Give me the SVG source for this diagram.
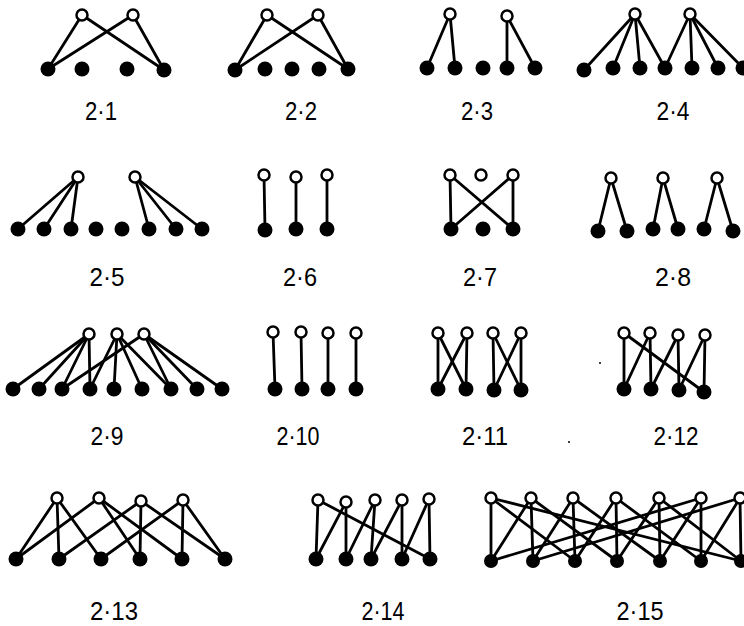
<svg xmlns="http://www.w3.org/2000/svg" width="744" height="626" viewBox="0 0 744 626">
<style>
.e line{stroke:#000;stroke-width:2.8;stroke-linecap:round}
.o{fill:#fff;stroke:#000;stroke-width:2.5}
.f{fill:#000}
text{font-family:"Liberation Sans",Arial,sans-serif;font-size:25px;fill:#000;text-anchor:middle}
</style>
<rect width="744" height="626" fill="#fff"/>

<!-- 2.1 -->
<g id="graph-2-1">
<g class="e" id="edges-2-1">
<line x1="82" y1="15" x2="48" y2="69"/><line x1="82" y1="15" x2="164" y2="70"/>
<line x1="133" y1="15" x2="48" y2="69"/><line x1="133" y1="15" x2="164" y2="70"/>
</g>
<g id="n2-1-t1"><circle class="o" cx="82" cy="15" r="5.5"/></g>
<g id="n2-1-t2"><circle class="o" cx="133" cy="15" r="5.5"/></g>
<g id="n2-1-b1"><circle class="f" cx="48" cy="69" r="7.5"/></g>
<g id="n2-1-b2"><circle class="f" cx="82" cy="69" r="7.5"/></g>
<g id="n2-1-b3"><circle class="f" cx="127" cy="69" r="7.5"/></g>
<g id="n2-1-b4"><circle class="f" cx="164" cy="70" r="7.5"/></g>
<text x="101" y="120" textLength="32" lengthAdjust="spacingAndGlyphs">2·1</text>
</g>

<!-- 2.2 -->
<g id="graph-2-2">
<g class="e" id="edges-2-2">
<line x1="267" y1="15" x2="235" y2="70"/><line x1="267" y1="15" x2="348" y2="69"/>
<line x1="318" y1="15" x2="235" y2="70"/><line x1="318" y1="15" x2="348" y2="69"/>
</g>
<g id="n2-2-t1"><circle class="o" cx="267" cy="15" r="5.5"/></g>
<g id="n2-2-t2"><circle class="o" cx="318" cy="15" r="5.5"/></g>
<g id="n2-2-b1"><circle class="f" cx="235" cy="70" r="7.5"/></g>
<g id="n2-2-b2"><circle class="f" cx="265" cy="69" r="7.5"/></g>
<g id="n2-2-b3"><circle class="f" cx="292" cy="69" r="7.5"/></g>
<g id="n2-2-b4"><circle class="f" cx="319" cy="69" r="7.5"/></g>
<g id="n2-2-b5"><circle class="f" cx="348" cy="69" r="7.5"/></g>
<text x="301" y="120" textLength="32" lengthAdjust="spacingAndGlyphs">2·2</text>
</g>

<!-- 2.3 -->
<g id="graph-2-3">
<g class="e" id="edges-2-3">
<line x1="450" y1="14" x2="427" y2="68"/><line x1="450" y1="14" x2="455" y2="68"/>
<line x1="507" y1="16" x2="507" y2="68"/><line x1="507" y1="16" x2="535" y2="68"/>
</g>
<g id="n2-3-t1"><circle class="o" cx="450" cy="14" r="5.5"/></g>
<g id="n2-3-t2"><circle class="o" cx="507" cy="16" r="5.5"/></g>
<g id="n2-3-b1"><circle class="f" cx="427" cy="68" r="7.5"/></g>
<g id="n2-3-b2"><circle class="f" cx="455" cy="68" r="7.5"/></g>
<g id="n2-3-b3"><circle class="f" cx="483" cy="68" r="7.5"/></g>
<g id="n2-3-b4"><circle class="f" cx="507" cy="68" r="7.5"/></g>
<g id="n2-3-b5"><circle class="f" cx="535" cy="68" r="7.5"/></g>
<text x="477" y="120" textLength="32" lengthAdjust="spacingAndGlyphs">2·3</text>
</g>

<!-- 2.4 -->
<g id="graph-2-4">
<g class="e" id="edges-2-4">
<line x1="635" y1="14" x2="584" y2="70"/><line x1="635" y1="14" x2="613" y2="68"/>
<line x1="635" y1="14" x2="640" y2="68"/><line x1="635" y1="14" x2="665" y2="68"/>
<line x1="690" y1="14" x2="665" y2="68"/><line x1="690" y1="14" x2="692" y2="68"/>
<line x1="690" y1="14" x2="718" y2="68"/><line x1="690" y1="14" x2="743" y2="68"/>
</g>
<g id="n2-4-t1"><circle class="o" cx="635" cy="14" r="5.5"/></g>
<g id="n2-4-t2"><circle class="o" cx="690" cy="14" r="5.5"/></g>
<g id="n2-4-b1"><circle class="f" cx="584" cy="70" r="7.5"/></g>
<g id="n2-4-b2"><circle class="f" cx="613" cy="68" r="7.5"/></g>
<g id="n2-4-b3"><circle class="f" cx="640" cy="68" r="7.5"/></g>
<g id="n2-4-b4"><circle class="f" cx="665" cy="68" r="7.5"/></g>
<g id="n2-4-b5"><circle class="f" cx="692" cy="68" r="7.5"/></g>
<g id="n2-4-b6"><circle class="f" cx="718" cy="68" r="7.5"/></g>
<g id="n2-4-b7"><circle class="f" cx="743" cy="68" r="7.5"/></g>
<text x="673" y="120" textLength="33" lengthAdjust="spacingAndGlyphs">2·4</text>
</g>

<!-- 2.5 -->
<g id="graph-2-5">
<g class="e" id="edges-2-5">
<line x1="78" y1="177" x2="18" y2="229"/><line x1="78" y1="177" x2="44" y2="229"/>
<line x1="78" y1="177" x2="71" y2="229"/>
<line x1="135" y1="177" x2="149" y2="229"/><line x1="135" y1="177" x2="176" y2="229"/>
<line x1="135" y1="177" x2="202" y2="229"/>
</g>
<g id="n2-5-t1"><circle class="o" cx="78" cy="177" r="5.5"/></g>
<g id="n2-5-t2"><circle class="o" cx="135" cy="177" r="5.5"/></g>
<g id="n2-5-b1"><circle class="f" cx="18" cy="229" r="7.5"/></g>
<g id="n2-5-b2"><circle class="f" cx="44" cy="229" r="7.5"/></g>
<g id="n2-5-b3"><circle class="f" cx="71" cy="229" r="7.5"/></g>
<g id="n2-5-b4"><circle class="f" cx="96" cy="229" r="7.5"/></g>
<g id="n2-5-b5"><circle class="f" cx="122" cy="229" r="7.5"/></g>
<g id="n2-5-b6"><circle class="f" cx="149" cy="229" r="7.5"/></g>
<g id="n2-5-b7"><circle class="f" cx="176" cy="229" r="7.5"/></g>
<g id="n2-5-b8"><circle class="f" cx="202" cy="229" r="7.5"/></g>
<text x="107" y="286" textLength="35" lengthAdjust="spacingAndGlyphs">2·5</text>
</g>

<!-- 2.6 -->
<g id="graph-2-6">
<g class="e" id="edges-2-6">
<line x1="264" y1="175" x2="265" y2="230"/><line x1="296" y1="177" x2="296" y2="229"/>
<line x1="327" y1="175" x2="327" y2="229"/>
</g>
<g id="n2-6-t1"><circle class="o" cx="264" cy="175" r="5.5"/></g>
<g id="n2-6-t2"><circle class="o" cx="296" cy="177" r="5.5"/></g>
<g id="n2-6-t3"><circle class="o" cx="327" cy="175" r="5.5"/></g>
<g id="n2-6-b1"><circle class="f" cx="265" cy="230" r="7.5"/></g>
<g id="n2-6-b2"><circle class="f" cx="296" cy="229" r="7.5"/></g>
<g id="n2-6-b3"><circle class="f" cx="327" cy="229" r="7.5"/></g>
<text x="300" y="286" textLength="34" lengthAdjust="spacingAndGlyphs">2·6</text>
</g>

<!-- 2.7 -->
<g id="graph-2-7">
<g class="e" id="edges-2-7">
<line x1="450" y1="175" x2="451" y2="229"/><line x1="450" y1="175" x2="513" y2="229"/>
<line x1="513" y1="175" x2="451" y2="229"/><line x1="513" y1="175" x2="513" y2="229"/>
</g>
<g id="n2-7-t1"><circle class="o" cx="450" cy="175" r="5.5"/></g>
<g id="n2-7-t2"><circle class="o" cx="481" cy="175" r="5.5"/></g>
<g id="n2-7-t3"><circle class="o" cx="513" cy="175" r="5.5"/></g>
<g id="n2-7-b1"><circle class="f" cx="451" cy="229" r="7.5"/></g>
<g id="n2-7-b2"><circle class="f" cx="483" cy="229" r="7.5"/></g>
<g id="n2-7-b3"><circle class="f" cx="513" cy="229" r="7.5"/></g>
<text x="480" y="286" textLength="34" lengthAdjust="spacingAndGlyphs">2·7</text>
</g>

<!-- 2.8 -->
<g id="graph-2-8">
<g class="e" id="edges-2-8">
<line x1="611" y1="178" x2="598" y2="231"/><line x1="611" y1="178" x2="627" y2="231"/>
<line x1="663" y1="178" x2="653" y2="229"/><line x1="663" y1="178" x2="678" y2="229"/>
<line x1="717" y1="178" x2="704" y2="229"/><line x1="717" y1="178" x2="733" y2="231"/>
</g>
<g id="n2-8-t1"><circle class="o" cx="611" cy="178" r="5.5"/></g>
<g id="n2-8-t2"><circle class="o" cx="663" cy="178" r="5.5"/></g>
<g id="n2-8-t3"><circle class="o" cx="717" cy="178" r="5.5"/></g>
<g id="n2-8-b1"><circle class="f" cx="598" cy="231" r="7.5"/></g>
<g id="n2-8-b2"><circle class="f" cx="627" cy="231" r="7.5"/></g>
<g id="n2-8-b3"><circle class="f" cx="653" cy="229" r="7.5"/></g>
<g id="n2-8-b4"><circle class="f" cx="678" cy="229" r="7.5"/></g>
<g id="n2-8-b5"><circle class="f" cx="704" cy="229" r="7.5"/></g>
<g id="n2-8-b6"><circle class="f" cx="733" cy="231" r="7.5"/></g>
<text x="673" y="286" textLength="36" lengthAdjust="spacingAndGlyphs">2·8</text>
</g>

<!-- 2.9 -->
<g id="graph-2-9">
<g class="e" id="edges-2-9">
<line x1="89" y1="334" x2="13" y2="389"/><line x1="89" y1="334" x2="39" y2="389"/>
<line x1="89" y1="334" x2="62" y2="389"/><line x1="89" y1="334" x2="90" y2="389"/>
<line x1="117" y1="334" x2="90" y2="389"/><line x1="117" y1="334" x2="114" y2="389"/>
<line x1="117" y1="334" x2="142" y2="389"/><line x1="117" y1="334" x2="171" y2="389"/>
<line x1="144" y1="334" x2="62" y2="389"/><line x1="144" y1="334" x2="171" y2="389"/>
<line x1="144" y1="334" x2="197" y2="389"/><line x1="144" y1="334" x2="222" y2="389"/>
</g>
<g id="n2-9-t1"><circle class="o" cx="89" cy="334" r="5.5"/></g>
<g id="n2-9-t2"><circle class="o" cx="117" cy="334" r="5.5"/></g>
<g id="n2-9-t3"><circle class="o" cx="144" cy="334" r="5.5"/></g>
<g id="n2-9-b1"><circle class="f" cx="13" cy="389" r="7.5"/></g>
<g id="n2-9-b2"><circle class="f" cx="39" cy="389" r="7.5"/></g>
<g id="n2-9-b3"><circle class="f" cx="62" cy="389" r="7.5"/></g>
<g id="n2-9-b4"><circle class="f" cx="90" cy="389" r="7.5"/></g>
<g id="n2-9-b5"><circle class="f" cx="114" cy="389" r="7.5"/></g>
<g id="n2-9-b6"><circle class="f" cx="142" cy="389" r="7.5"/></g>
<g id="n2-9-b7"><circle class="f" cx="171" cy="389" r="7.5"/></g>
<g id="n2-9-b8"><circle class="f" cx="197" cy="389" r="7.5"/></g>
<g id="n2-9-b9"><circle class="f" cx="222" cy="389" r="7.5"/></g>
<text x="107" y="445" textLength="33" lengthAdjust="spacingAndGlyphs">2·9</text>
</g>

<!-- 2.10 -->
<g id="graph-2-10">
<g class="e" id="edges-2-10">
<line x1="273" y1="332" x2="275" y2="389"/><line x1="301" y1="332" x2="302" y2="389"/>
<line x1="328" y1="333" x2="328" y2="389"/><line x1="356" y1="333" x2="356" y2="389"/>
</g>
<g id="n2-10-t1"><circle class="o" cx="273" cy="332" r="5.5"/></g>
<g id="n2-10-t2"><circle class="o" cx="301" cy="332" r="5.5"/></g>
<g id="n2-10-t3"><circle class="o" cx="328" cy="333" r="5.5"/></g>
<g id="n2-10-t4"><circle class="o" cx="356" cy="333" r="5.5"/></g>
<g id="n2-10-b1"><circle class="f" cx="275" cy="389" r="7.5"/></g>
<g id="n2-10-b2"><circle class="f" cx="302" cy="389" r="7.5"/></g>
<g id="n2-10-b3"><circle class="f" cx="328" cy="389" r="7.5"/></g>
<g id="n2-10-b4"><circle class="f" cx="356" cy="389" r="7.5"/></g>
<text x="298" y="445" textLength="43" lengthAdjust="spacingAndGlyphs">2·10</text>
</g>

<!-- 2.11 -->
<g id="graph-2-11">
<g class="e" id="edges-2-11">
<line x1="438" y1="333" x2="438" y2="389"/><line x1="438" y1="333" x2="466" y2="389"/>
<line x1="467" y1="333" x2="438" y2="389"/><line x1="467" y1="333" x2="466" y2="389"/>
<line x1="493" y1="333" x2="494" y2="390"/><line x1="493" y1="333" x2="521" y2="390"/>
<line x1="521" y1="333" x2="494" y2="390"/><line x1="521" y1="333" x2="521" y2="390"/>
</g>
<g id="n2-11-t1"><circle class="o" cx="438" cy="333" r="5.5"/></g>
<g id="n2-11-t2"><circle class="o" cx="467" cy="333" r="5.5"/></g>
<g id="n2-11-t3"><circle class="o" cx="493" cy="333" r="5.5"/></g>
<g id="n2-11-t4"><circle class="o" cx="521" cy="333" r="5.5"/></g>
<g id="n2-11-b1"><circle class="f" cx="438" cy="389" r="7.5"/></g>
<g id="n2-11-b2"><circle class="f" cx="466" cy="389" r="7.5"/></g>
<g id="n2-11-b3"><circle class="f" cx="494" cy="390" r="7.5"/></g>
<g id="n2-11-b4"><circle class="f" cx="521" cy="390" r="7.5"/></g>
<text x="485" y="445" textLength="46" lengthAdjust="spacingAndGlyphs">2·11</text>
</g>

<!-- 2.12 -->
<g id="graph-2-12">
<g class="e" id="edges-2-12">
<line x1="624" y1="333" x2="624" y2="389"/><line x1="624" y1="333" x2="704" y2="392"/>
<line x1="650" y1="333" x2="624" y2="389"/><line x1="650" y1="333" x2="651" y2="389"/>
<line x1="678" y1="335" x2="651" y2="389"/><line x1="678" y1="335" x2="679" y2="390"/>
<line x1="705" y1="335" x2="679" y2="390"/><line x1="705" y1="335" x2="704" y2="392"/>
</g>
<g id="n2-12-t1"><circle class="o" cx="624" cy="333" r="5.5"/></g>
<g id="n2-12-t2"><circle class="o" cx="650" cy="333" r="5.5"/></g>
<g id="n2-12-t3"><circle class="o" cx="678" cy="335" r="5.5"/></g>
<g id="n2-12-t4"><circle class="o" cx="705" cy="335" r="5.5"/></g>
<g id="n2-12-b1"><circle class="f" cx="624" cy="389" r="7.5"/></g>
<g id="n2-12-b2"><circle class="f" cx="651" cy="389" r="7.5"/></g>
<g id="n2-12-b3"><circle class="f" cx="679" cy="390" r="7.5"/></g>
<g id="n2-12-b4"><circle class="f" cx="704" cy="392" r="7.5"/></g>
<text x="676" y="445" textLength="45" lengthAdjust="spacingAndGlyphs">2·12</text>
</g>

<!-- small specks printed in the picture -->
<g id="specks">
<circle class="f" cx="600" cy="363" r="1"/>
<circle class="f" cx="569" cy="442" r="1"/>
</g>

<!-- 2.13 -->
<g id="graph-2-13">
<g class="e" id="edges-2-13">
<line x1="57" y1="498" x2="16" y2="559"/><line x1="57" y1="498" x2="59" y2="559"/>
<line x1="57" y1="498" x2="101" y2="559"/>
<line x1="99" y1="498" x2="16" y2="559"/><line x1="99" y1="498" x2="140" y2="559"/>
<line x1="99" y1="498" x2="182" y2="559"/>
<line x1="141" y1="501" x2="59" y2="559"/><line x1="141" y1="501" x2="140" y2="559"/>
<line x1="141" y1="501" x2="225" y2="559"/>
<line x1="183" y1="500" x2="101" y2="559"/><line x1="183" y1="500" x2="182" y2="559"/>
<line x1="183" y1="500" x2="225" y2="559"/>
</g>
<g id="n2-13-t1"><circle class="o" cx="57" cy="498" r="5.5"/></g>
<g id="n2-13-t2"><circle class="o" cx="99" cy="498" r="5.5"/></g>
<g id="n2-13-t3"><circle class="o" cx="141" cy="501" r="5.5"/></g>
<g id="n2-13-t4"><circle class="o" cx="183" cy="500" r="5.5"/></g>
<g id="n2-13-b1"><circle class="f" cx="16" cy="559" r="7.5"/></g>
<g id="n2-13-b2"><circle class="f" cx="59" cy="559" r="7.5"/></g>
<g id="n2-13-b3"><circle class="f" cx="101" cy="559" r="7.5"/></g>
<g id="n2-13-b4"><circle class="f" cx="140" cy="559" r="7.5"/></g>
<g id="n2-13-b5"><circle class="f" cx="182" cy="559" r="7.5"/></g>
<g id="n2-13-b6"><circle class="f" cx="225" cy="559" r="7.5"/></g>
<text x="114" y="620" textLength="48" lengthAdjust="spacingAndGlyphs">2·13</text>
</g>

<!-- 2.14 -->
<g id="graph-2-14">
<g class="e" id="edges-2-14">
<line x1="318" y1="500" x2="316" y2="559"/><line x1="318" y1="500" x2="430" y2="559"/>
<line x1="346" y1="502" x2="316" y2="559"/><line x1="346" y1="502" x2="346" y2="559"/>
<line x1="375" y1="500" x2="346" y2="559"/><line x1="375" y1="500" x2="371" y2="559"/>
<line x1="402" y1="500" x2="371" y2="559"/><line x1="402" y1="500" x2="402" y2="559"/>
<line x1="429" y1="499" x2="402" y2="559"/><line x1="429" y1="499" x2="430" y2="559"/>
</g>
<g id="n2-14-t1"><circle class="o" cx="318" cy="500" r="5.5"/></g>
<g id="n2-14-t2"><circle class="o" cx="346" cy="502" r="5.5"/></g>
<g id="n2-14-t3"><circle class="o" cx="375" cy="500" r="5.5"/></g>
<g id="n2-14-t4"><circle class="o" cx="402" cy="500" r="5.5"/></g>
<g id="n2-14-t5"><circle class="o" cx="429" cy="499" r="5.5"/></g>
<g id="n2-14-b1"><circle class="f" cx="316" cy="559" r="7.5"/></g>
<g id="n2-14-b2"><circle class="f" cx="346" cy="559" r="7.5"/></g>
<g id="n2-14-b3"><circle class="f" cx="371" cy="559" r="7.5"/></g>
<g id="n2-14-b4"><circle class="f" cx="402" cy="559" r="7.5"/></g>
<g id="n2-14-b5"><circle class="f" cx="430" cy="559" r="7.5"/></g>
<text x="383" y="620" textLength="43" lengthAdjust="spacingAndGlyphs">2·14</text>
</g>

<!-- 2.15 -->
<g id="graph-2-15">
<g class="e" id="edges-2-15">
<line x1="491" y1="498" x2="491" y2="561"/><line x1="491" y1="498" x2="575" y2="561"/><line x1="491" y1="498" x2="741" y2="561"/>
<line x1="531" y1="498" x2="491" y2="561"/><line x1="531" y1="498" x2="533" y2="561"/><line x1="531" y1="498" x2="617" y2="561"/>
<line x1="573" y1="498" x2="533" y2="561"/><line x1="573" y1="498" x2="575" y2="561"/><line x1="573" y1="498" x2="660" y2="561"/>
<line x1="616" y1="498" x2="575" y2="561"/><line x1="616" y1="498" x2="617" y2="561"/><line x1="616" y1="498" x2="701" y2="561"/>
<line x1="659" y1="498" x2="617" y2="561"/><line x1="659" y1="498" x2="660" y2="561"/><line x1="659" y1="498" x2="741" y2="561"/>
<line x1="701" y1="498" x2="660" y2="561"/><line x1="701" y1="498" x2="701" y2="561"/><line x1="701" y1="498" x2="491" y2="561"/>
<line x1="740" y1="498" x2="701" y2="561"/><line x1="740" y1="498" x2="741" y2="561"/><line x1="740" y1="498" x2="533" y2="561"/>
</g>
<g id="n2-15-t1"><circle class="o" cx="491" cy="498" r="5.5"/></g>
<g id="n2-15-t2"><circle class="o" cx="531" cy="498" r="5.5"/></g>
<g id="n2-15-t3"><circle class="o" cx="573" cy="498" r="5.5"/></g>
<g id="n2-15-t4"><circle class="o" cx="616" cy="498" r="5.5"/></g>
<g id="n2-15-t5"><circle class="o" cx="659" cy="498" r="5.5"/></g>
<g id="n2-15-t6"><circle class="o" cx="701" cy="498" r="5.5"/></g>
<g id="n2-15-t7"><circle class="o" cx="740" cy="498" r="5.5"/></g>
<g id="n2-15-b1"><circle class="f" cx="491" cy="561" r="7"/></g>
<g id="n2-15-b2"><circle class="f" cx="533" cy="561" r="7"/></g>
<g id="n2-15-b3"><circle class="f" cx="575" cy="561" r="7"/></g>
<g id="n2-15-b4"><circle class="f" cx="617" cy="561" r="7"/></g>
<g id="n2-15-b5"><circle class="f" cx="660" cy="561" r="7"/></g>
<g id="n2-15-b6"><circle class="f" cx="701" cy="561" r="7"/></g>
<g id="n2-15-b7"><circle class="f" cx="741" cy="561" r="7"/></g>
<text x="640" y="620" textLength="47" lengthAdjust="spacingAndGlyphs">2·15</text>
</g>
</svg>
